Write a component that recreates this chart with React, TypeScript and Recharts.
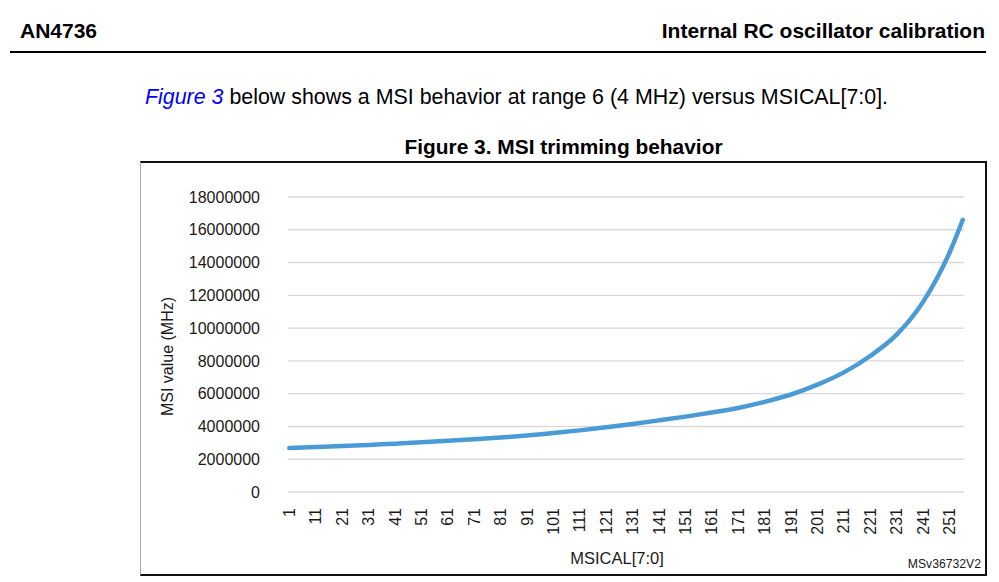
import { LineChart, Line, XAxis, YAxis, CartesianGrid, Label } from "recharts";

const msicalCodes = [1, 11, 21, 31, 41, 51, 61, 71, 81, 91, 101, 111, 121, 131, 141, 151, 161, 171, 181, 191, 201, 211, 221, 231, 241, 251, 256];
// MSI frequency (Hz) at those codes
const msiValues = [
    2680000, 2740000, 2800000, 2870000, 2950000, 3030000, 3120000, 3220000, 3330000, 3450000,
    3600000, 3760000, 3950000, 4150000, 4370000, 4600000, 4850000, 5130000, 5500000, 5950000,
    6550000, 7300000, 8300000, 9600000, 11600000, 14600000, 16600000,
];
const xTickLabels = [1, 11, 21, 31, 41, 51, 61, 71, 81, 91, 101, 111, 121, 131, 141, 151, 161, 171, 181, 191, 201, 211, 221, 231, 241, 251];
const yTickLabels = [0, 2000000, 4000000, 6000000, 8000000, 10000000, 12000000, 14000000, 16000000, 18000000];

const data = msicalCodes.map((code, i) => ({ code, msi: msiValues[i] }));

const FONT = "'Liberation Sans', Arial, sans-serif";
const TEXT = "#1a1a1a";

const RotatedTick = ({ x, y, payload }: any) => (
    <text
        x={x}
        y={y}
        transform={`rotate(-90, ${x}, ${y})`}
        textAnchor="end"
        dy="0.35em"
        fontSize={16}
        fontFamily={FONT}
        fill={TEXT}
    >
        {payload.value}
    </text>
);

const YTitle = ({ viewBox }: any) => {
    const x = viewBox.x + 27;
    const y = viewBox.y + viewBox.height / 2 + 12;
    return (
        <text x={x} y={y} transform={`rotate(-90, ${x}, ${y})`} textAnchor="middle" dy="0.35em" fontSize={16} fontFamily={FONT} fill={TEXT}>
            MSI value (MHz)
        </text>
    );
};

const XTitle = ({ viewBox }: any) => (
    <text x={viewBox.x + viewBox.width / 2 - 9} y={viewBox.y + 66} textAnchor="middle" dy="0.35em" fontSize={16.5} fontFamily={FONT} fill={TEXT}>
        MSICAL[7:0]
    </text>
);

export default function App() {
    return (
        <div style={{ position: "absolute", left: 0, top: 0, width: 999, height: 582, background: "#fff", fontFamily: FONT, color: "#000" }}>
            <div style={{ position: "absolute", left: 20, top: 19, fontSize: 21, fontWeight: "bold", lineHeight: "24px" }}>AN4736</div>
            <div style={{ position: "absolute", right: 14, top: 19, fontSize: 21, fontWeight: "bold", lineHeight: "24px" }}>
                Internal RC oscillator calibration
            </div>
            <div style={{ position: "absolute", left: 10, top: 51, width: 976, height: 2, background: "#000" }} />
            <div style={{ position: "absolute", left: 145, top: 85, fontSize: 21.4, lineHeight: "24px", whiteSpace: "nowrap" }}>
                <span style={{ color: "#0000ff", fontStyle: "italic" }}>Figure 3</span> below shows a MSI behavior at range 6 (4 MHz) versus MSICAL[7:0].
            </div>
            <div style={{ position: "absolute", left: 140, width: 847, top: 135, textAlign: "center", fontSize: 20.9, fontWeight: "bold", lineHeight: "24px" }}>
                Figure 3. MSI trimming behavior
            </div>
            <div style={{ position: "absolute", left: 140, top: 161 }}>
                <LineChart width={847} height={415} data={data} margin={{ top: 36, right: 23, left: 0, bottom: 0 }}>
                    <CartesianGrid horizontal vertical={false} stroke="#d9d9d9" strokeWidth={1.4} />
                    <XAxis
                        dataKey="code"
                        type="number"
                        domain={[0.5, 256.5]}
                        ticks={xTickLabels}
                        interval={0}
                        axisLine={false}
                        tickLine={false}
                        tickMargin={10}
                        height={84}
                        tick={<RotatedTick />}
                    >
                        <Label content={<XTitle />} />
                    </XAxis>
                    <YAxis
                        domain={[0, 18000000]}
                        ticks={yTickLabels}
                        interval={0}
                        width={148}
                        axisLine={false}
                        tickLine={false}
                        tickMargin={22}
                        tick={{ fontSize: 16, fontFamily: FONT, fill: TEXT }}
                    >
                        <Label content={<YTitle />} />
                    </YAxis>
                    <Line
                        type="monotone"
                        dataKey="msi"
                        stroke="#4a9bd5"
                        strokeWidth={4.5}
                        strokeLinecap="round"
                        dot={false}
                        isAnimationActive={false}
                    />
                </LineChart>
                <div style={{ position: "absolute", right: 6, top: 396, fontSize: 12.2, color: TEXT }}>MSv36732V2</div>
                <div
                    style={{
                        position: "absolute",
                        left: 0,
                        top: 0,
                        width: 847,
                        height: 415,
                        boxSizing: "border-box",
                        borderTop: "2px solid #111",
                        borderRight: "2px solid #111",
                        borderBottom: "2px solid #111",
                        borderLeft: "1.5px solid #aaa",
                        pointerEvents: "none",
                    }}
                />
            </div>
        </div>
    );
}
